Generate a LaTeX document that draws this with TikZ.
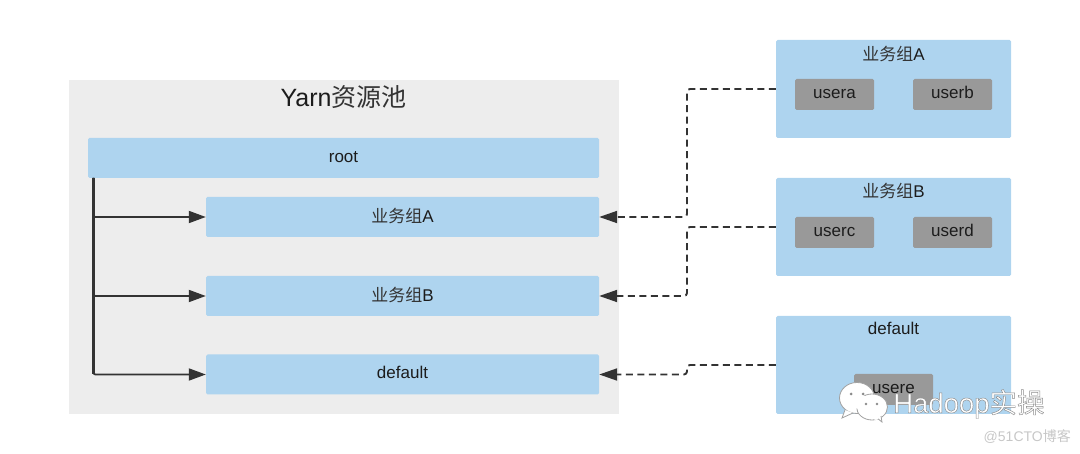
\documentclass[tikz,border=0pt]{standalone}
\usepackage{fontspec}
\setmainfont{Liberation Sans}
\newfontfamily\cjk{Noto Sans CJK SC}
\usetikzlibrary{arrows.meta}
\definecolor{boxblue}{HTML}{AED4EF}
\definecolor{poolgray}{HTML}{EDEDED}
\definecolor{usergray}{HTML}{999999}
\definecolor{linedark}{HTML}{333333}
\definecolor{inkdark}{HTML}{1C1C1C}
\definecolor{wmgray}{HTML}{8A8A8A}
\newcommand{\zu}{{\cjk\color{linedark}业务组}}
\tikzset{
  panel/.style={fill=boxblue,rounded corners=1.5pt,inner sep=0pt,text=inkdark,font=\fontsize{17}{20}\selectfont,text height=12.5pt,text depth=3.5pt},
  userbox/.style={fill=usergray,rounded corners=1.5pt,inner sep=0pt,minimum width=79pt,minimum height=31pt,text=inkdark,font=\fontsize{17}{20}\selectfont,text height=12pt,text depth=4pt},
  grouptitle/.style={inner sep=0pt,text=inkdark,font=\fontsize{17}{20}\selectfont},
  groupbox/.style={panel,minimum width=235pt,minimum height=98pt},
  queue/.style={panel,minimum width=393pt,minimum height=40pt,text height=13pt,text depth=2pt},
  solidarrow/.style={draw=linedark,line width=1.8pt,-{Triangle[length=17pt,width=12pt]},rounded corners=2pt},
  dashedarrow/.style={draw=linedark,line width=1.9pt,dash pattern=on 7pt off 4.5pt,-{Triangle[length=18pt,width=12pt]},rounded corners=3pt},
  bubble/.style={fill=white,draw=wmgray!80,line width=.8pt},
}
\begin{document}
\begin{tikzpicture}[x=1pt,y=-1pt]
\useasboundingbox (0,0) rectangle (1080,454);
% pool
\node[fill=poolgray,inner sep=0pt,minimum width=550pt,minimum height=334pt] (pool) at (344,247) {};
\node[inner sep=0pt,text=inkdark,font=\fontsize{25}{30}\selectfont] (title) at (343.5,97) {Yarn{\cjk\color{linedark}资源池}};
% queues
\node[panel,minimum width=511pt,minimum height=40pt] (root) at (343.5,158) {root};
\node[queue] (qa) at (402.5,217) {\zu A};
\node[queue] (qb) at (402.5,296) {\zu B};
\node[queue,text height=12.5pt,text depth=3.5pt] (qd) at (402.5,374.5) {default};
% groups
\node[groupbox] (ga) at (893.5,89) {};
\node[groupbox] (gb) at (893.5,227) {};
\node[groupbox] (gd) at (893.5,365) {};
\node[grouptitle] (ta) at (893.5,54) {\zu A};
\node[grouptitle] (tb) at (893.5,191.5) {\zu B};
\node[grouptitle] (td) at (893.5,328) {default};
\node[userbox] (ua) at (834.5,94.5) {usera};
\node[userbox] (ub) at (952.5,94.5) {userb};
\node[userbox] (uc) at (834.5,232.5) {userc};
\node[userbox] (ud) at (952.5,232.5) {userd};
\node[userbox] (ue) at (893.5,389.5) {usere};
% tree connectors
\coordinate (trunk) at (93.5,178);
\draw[solidarrow] (trunk) -- (trunk |- qa.west) -- (qa.west);
\draw[solidarrow] (trunk) -- (trunk |- qb.west) -- (qb.west);
\draw[solidarrow] (trunk) -- (trunk |- qd.west) -- (qd.west);
\draw[draw=linedark,line width=2.4pt] (trunk) -- (trunk |- qd.west);
% mapping connectors
\coordinate (bus) at (687,0);
\draw[dashedarrow] (ga.west) -- (ga.west -| bus) -- (qa.east -| bus) -- (qa.east);
\draw[dashedarrow] (gb.west) -- (gb.west -| bus) -- (qb.east -| bus) -- (qb.east);
\draw[dashedarrow] (gd.west) -- (gd.west -| bus) -- (qd.east -| bus) -- (qd.east);
% watermark
\draw[bubble] (857,398) ellipse [x radius=17.5,y radius=15.5];
\draw[bubble] (845,410) -- (842,418) -- (853,413);
\fill[wmgray] (851,394) circle (1.5) (863,394) circle (1.5);
\draw[bubble] (872,407) ellipse [x radius=15.5,y radius=13];
\draw[bubble] (877,418) -- (882,422) -- (881,416);
\fill[white] (860,402) ellipse [x radius=10,y radius=7] (876,417) circle (3);
\fill[wmgray] (866,404) circle (1.4) (877,404) circle (1.4);
\node[inner sep=0pt,anchor=west,text=white,font=\fontsize{27.5}{32}\selectfont] (wm) at (893,404) {\special{pdf:code 2 Tr 0.45 w 0.55 0.55 0.55 RG}Hadoop{\cjk 实操}\special{pdf:code 0 Tr 0 0 0 RG}};
\node[inner sep=0pt,anchor=east,text=black!22,font=\fontsize{14}{16}\selectfont] (wm2) at (1071,437) {@51CTO{\cjk 博客}};
\end{tikzpicture}
\end{document}
